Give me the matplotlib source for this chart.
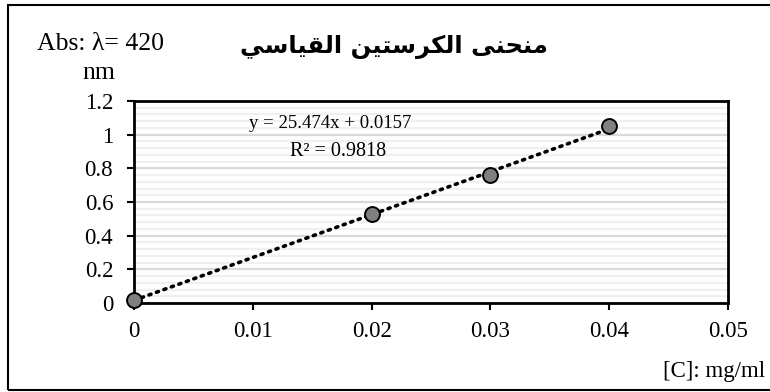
import numpy as np
import matplotlib
matplotlib.use("Agg")
import matplotlib.pyplot as plt
from matplotlib.patches import Rectangle
from matplotlib.ticker import MultipleLocator

# data
conc = [0.0, 0.02, 0.03, 0.04]
absorb = [0.015, 0.53, 0.76, 1.05]
slope, intercept = 25.474, 0.0157
r2 = 0.9818
x_ticks = [0, 0.01, 0.02, 0.03, 0.04, 0.05]
y_ticks = [0, 0.2, 0.4, 0.6, 0.8, 1.0, 1.2]

# title in Arabic presentation forms (matplotlib has no shaping), logical order
title_logical = ("\uFEE3\uFEE8\uFEA4\uFEE8\uFEF0 "
                 "\uFE8D\uFEDF\uFEDC\uFEAE\uFEB3\uFE98\uFEF4\uFEE6 "
                 "\uFE8D\uFEDF\uFED8\uFEF4\uFE8E\uFEB3\uFEF2")
title_visual = title_logical[::-1]

plt.rcParams['font.family'] = ['Liberation Serif', 'DejaVu Serif']

fig = plt.figure(figsize=(7.7, 3.92), dpi=100)
ax = fig.add_axes([134 / 770, 1 - 303 / 392, (728 - 134) / 770, (303 - 101) / 392])

# outer frame
fig.patches.append(Rectangle((8 / 770, 2 / 392), 1.2, 385 / 392, transform=fig.transFigure,
                             fill=False, edgecolor='black', linewidth=1.5, zorder=0))

# gridlines
ax.yaxis.set_minor_locator(MultipleLocator(0.04))
ax.grid(which='minor', axis='y', color='#f0f0f0', linewidth=1.6)
ax.grid(which='major', axis='y', color='#d9d9d9', linewidth=1.6)
ax.set_axisbelow(True)

# trendline
xt = np.array([min(conc), max(conc)])
ax.plot(xt, slope * xt + intercept, color='black', linestyle=(0, (0.6, 1.6)),
        linewidth=2.6, dash_capstyle='round', zorder=2)

ax.scatter(conc, absorb, s=115, color='#808080', edgecolor='black', linewidth=1.4,
           zorder=3, clip_on=False)

ax.set_xlim(0, 0.05)
ax.set_ylim(0, 1.2)
ax.set_xticks(x_ticks)
ax.set_xticklabels([f"{v:g}" for v in x_ticks])
ax.set_yticks(y_ticks)
ax.set_yticklabels([f"{v:g}" for v in y_ticks])
ax.tick_params(which='major', direction='out', length=5, width=1.5, labelsize=16.5, pad=8)
ax.tick_params(axis='y', pad=10)
ax.tick_params(which='minor', length=0)
for s in ax.spines.values():
    s.set_linewidth(2)

fig.text(330 / 770, 1 - 123 / 392, f"y = {slope}x + {intercept}",
         ha='center', va='center', fontsize=13.5)
fig.text(338 / 770, 1 - 151 / 392, f"R\u00b2 = {r2}",
         ha='center', va='center', fontsize=14.5)

fig.text(394 / 770, 1 - 47 / 392, title_visual, ha='center', va='center', fontsize=17.5,
         fontweight='bold', family=['DejaVu Sans'])
fig.text(101 / 770, 1 - 44 / 392, "Abs: \u03bb= 420", ha='center', va='center', fontsize=18.5)
fig.text(99 / 770, 1 - 73 / 392, "nm", ha='center', va='center', fontsize=18.5)
fig.text(765 / 770, 1 - 372 / 392, "[C]: mg/ml", ha='right', va='center', fontsize=16.5)

fig.savefig("out.png", dpi=100)
